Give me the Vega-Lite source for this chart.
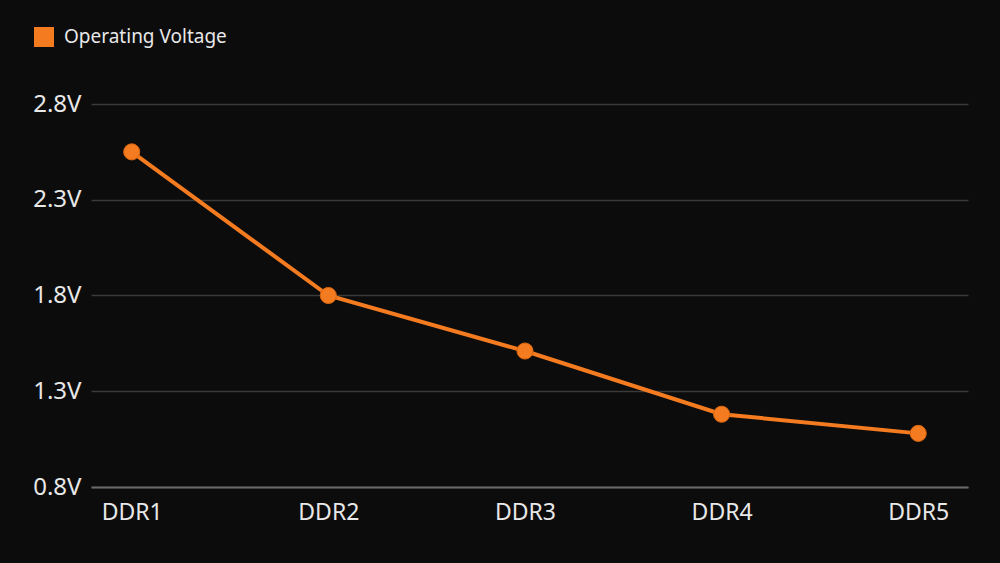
{
  "$schema": "https://vega.github.io/schema/vega-lite/v6.json",
  "width": 877,
  "height": 383,
  "autosize": {"type": "none"},
  "padding": {"left": 91, "top": 104, "right": 32, "bottom": 76},
  "background": "#0c0c0c",
  "data": {
    "values": [
      {"generation": "DDR1", "voltage": 2.55, "series": "Operating Voltage"},
      {"generation": "DDR2", "voltage": 1.8, "series": "Operating Voltage"},
      {"generation": "DDR3", "voltage": 1.51, "series": "Operating Voltage"},
      {"generation": "DDR4", "voltage": 1.18, "series": "Operating Voltage"},
      {"generation": "DDR5", "voltage": 1.08, "series": "Operating Voltage"}
    ]
  },
  "encoding": {
    "x": {
      "field": "generation",
      "type": "ordinal",
      "scale": {"type": "point", "padding": 0.23, "align": 0.45},
      "axis": {
        "title": null,
        "labelAngle": 0,
        "labelFontSize": 23,
        "labelColor": "#e8e8e8",
        "labelPadding": 14,
        "ticks": false,
        "domainColor": "#6a6a6a",
        "domainWidth": 2,
        "grid": false
      }
    },
    "y": {
      "field": "voltage",
      "type": "quantitative",
      "scale": {"domain": [0.8, 2.8], "nice": false, "zero": false},
      "axis": {
        "title": null,
        "values": [0.8, 1.3, 1.8, 2.3, 2.8],
        "labelExpr": "format(datum.value, '.1f') + 'V'",
        "labelFontSize": 24,
        "labelColor": "#e8e8e8",
        "labelPadding": 10,
        "ticks": false,
        "domain": false,
        "gridColor": "#3a3a3a",
        "gridWidth": 1.5
      }
    },
    "color": {
      "field": "series",
      "type": "nominal",
      "scale": {"range": ["#f47b20"]},
      "legend": {
        "title": null,
        "orient": "none",
        "legendX": -57,
        "legendY": -77,
        "symbolType": "square",
        "symbolSize": 400,
        "symbolStrokeWidth": 0,
        "symbolOpacity": 1,
        "labelFontSize": 19,
        "labelLimit": 400,
        "labelColor": "#e8e8e8",
        "labelOffset": 10,
        "padding": 0
      }
    }
  },
  "layer": [
    {"mark": {"type": "line", "strokeWidth": 4}},
    {"mark": {"type": "point", "filled": true, "size": 260, "opacity": 1, "stroke": "#d9660f", "strokeWidth": 1}}
  ],
  "config": {
    "font": "Noto Sans",
    "view": {"stroke": null}
  }
}
